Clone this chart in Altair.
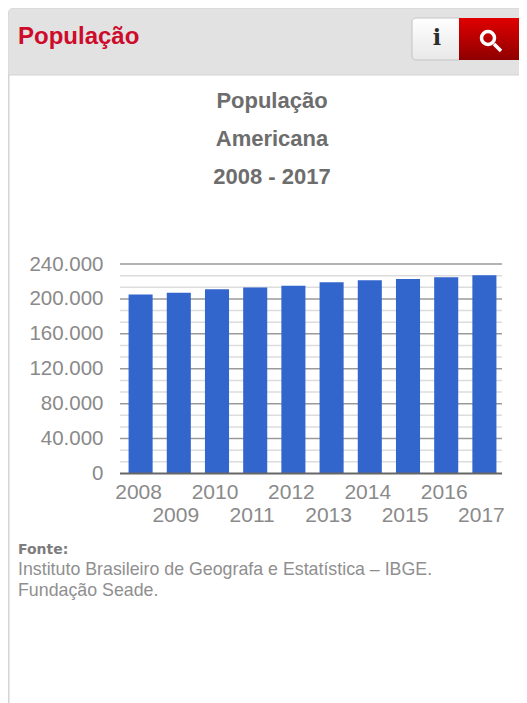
import altair as alt

years = ["2008", "2009", "2010", "2011", "2012", "2013", "2014", "2015", "2016", "2017"]
population = [205000, 207000, 211000, 213000, 215000, 219000, 221300, 222800, 224700, 227000]
major_ticks = [0, 40000, 80000, 120000, 160000, 200000, 240000]
minor_ticks = [13333, 26667, 53333, 66667, 93333, 106667, 133333, 146667, 173333, 186667, 213333, 226667]
chart_title = ["População", "Americana", "2008 - 2017"]
footer = ["Instituto Brasileiro de Geografa e Estatística – IBGE.", "Fundação Seade."]

FONT = "Liberation Sans"
OX, OY = 120, 264


def px(v):
    return v - OX


def py(v):
    return v - OY


one = alt.Data(values=[{"k": 0}])


def box(x0, x1, y0, y1, color, **kw):
    return alt.Chart(one).mark_rect(color=color, **kw).encode(
        x=alt.value(px(x0)), x2=alt.value(px(x1)),
        y=alt.value(py(y0)), y2=alt.value(py(y1)))


def label(text, x, y, size, color, align="left", bold=False, font=FONT):
    return alt.Chart(alt.Data(values=[{"t": text}])).mark_text(
        font=font, fontSize=size, color=color, align=align, baseline="middle",
        fontWeight="bold" if bold else "normal", opacity=0.95,
    ).encode(text="t:N", x=alt.value(px(x)), y=alt.value(py(y)))


def grad(top, bottom):
    return alt.LinearGradient(
        gradient="linear", x1=0, x2=0, y1=0, y2=1,
        stops=[alt.GradientStop(offset=0, color=top), alt.GradientStop(offset=1, color=bottom)])


header = box(8, 527, 8, 75, "#e2e2e2", cornerRadiusTopLeft=6, stroke="#d4d4d4", strokeWidth=1)
left_line = box(8, 9.5, 16, 703, "#d4d4d4")
btn_info = box(412, 462, 18, 60, grad("#ffffff", "#e8e8e8"), cornerRadius=4, stroke="#c4c4c4", strokeWidth=1)
btn_search = box(459, 523, 18, 60, grad("#e00000", "#8f0000"), cornerRadiusTopRight=4, cornerRadiusBottomRight=4)
lens = alt.Chart(one).mark_point(shape="circle", filled=False, color="#ffffff", size=170, strokeWidth=3.5, opacity=1).encode(
    x=alt.value(px(488)), y=alt.value(py(38)))
handle = alt.Chart(one).mark_rule(color="#ffffff", strokeWidth=3.5).encode(
    x=alt.value(px(494)), x2=alt.value(px(501)), y=alt.value(py(44)), y2=alt.value(py(51)))

texts = [
    label("População", 18, 37, 24, "#cc0022", bold=True),
    label("i", 437, 38, 22, "#222222", align="center", bold=True, font="DejaVu Serif"),
    label("Fonte:", 18, 550, 14, "#777777", bold=True, font="DejaVu Sans"),
    label(footer[0], 18, 570, 17.8, "#8a8a8a"),
    label(footer[1], 18, 591, 17.8, "#8a8a8a"),
]
for line, y in zip(chart_title, [101, 139, 177]):
    texts.append(label(line, 272, y, 22, "#666666", align="center", bold=True))

x_scale = alt.Scale(domain=years, range=[1.5, 383.5], paddingInner=0.37, paddingOuter=0.185)
y_scale = alt.Scale(domain=[0, 240000], nice=False)
y_axis = alt.Axis(
    values=major_ticks, title=None, domain=False, ticks=False, grid=False,
    labelFont=FONT, labelFontSize=20.5, labelColor="#8a8a8a", labelPadding=17,
    labelExpr="replace(format(datum.value, ','), ',', '.')")

rows = [{"year": y, "pop": p, "row": i % 2} for i, (y, p) in enumerate(zip(years, population))]

minor = alt.Chart(alt.Data(values=[{"v": v} for v in minor_ticks])).mark_rule(
    color="#dcdcdc", strokeWidth=1.5
).encode(y=alt.Y("v:Q", scale=y_scale, axis=y_axis), x=alt.value(0), x2=alt.value(382))

major = alt.Chart(alt.Data(values=[{"v": v} for v in major_ticks if v > 0])).mark_rule(
    color="#9a9a9a", strokeWidth=1.5
).encode(y=alt.Y("v:Q", scale=y_scale, axis=y_axis), x=alt.value(0), x2=alt.value(382))

bars = alt.Chart(alt.Data(values=rows)).mark_bar(color="#3366cc").encode(
    x=alt.X("year:N", scale=x_scale, axis=None),
    y=alt.Y("pop:Q", scale=y_scale, axis=y_axis),
)

baseline = alt.Chart(alt.Data(values=[{"v": 0}])).mark_rule(color="#666666", strokeWidth=2).encode(
    y=alt.Y("v:Q", scale=y_scale, axis=y_axis), x=alt.value(0), x2=alt.value(382))

x_even = alt.Chart(alt.Data(values=rows)).transform_filter("datum.row == 0").mark_text(
    font=FONT, fontSize=21, color="#8a8a8a", baseline="middle", dx=-2
).encode(x=alt.X("year:N", scale=x_scale, axis=None), y=alt.value(py(493)), text="year:N")
x_odd = alt.Chart(alt.Data(values=rows)).transform_filter("datum.row == 1").mark_text(
    font=FONT, fontSize=21, color="#8a8a8a", baseline="middle", dx=-3
).encode(x=alt.X("year:N", scale=x_scale, axis=None), y=alt.value(py(516)), text="year:N")

chart = alt.layer(
    left_line, header, btn_info, btn_search, lens, handle, *texts,
    minor, major, bars, baseline, x_even, x_odd,
).properties(
    width=382, height=209.5,
    autosize=alt.AutoSizeParams(type="none"),
    padding={"left": 112, "top": 256, "right": 17, "bottom": 229.5},
    background="#ffffff",
).configure_view(stroke=None)

chart.save("out.html", embed_options={"renderer": "svg", "actions": False})
